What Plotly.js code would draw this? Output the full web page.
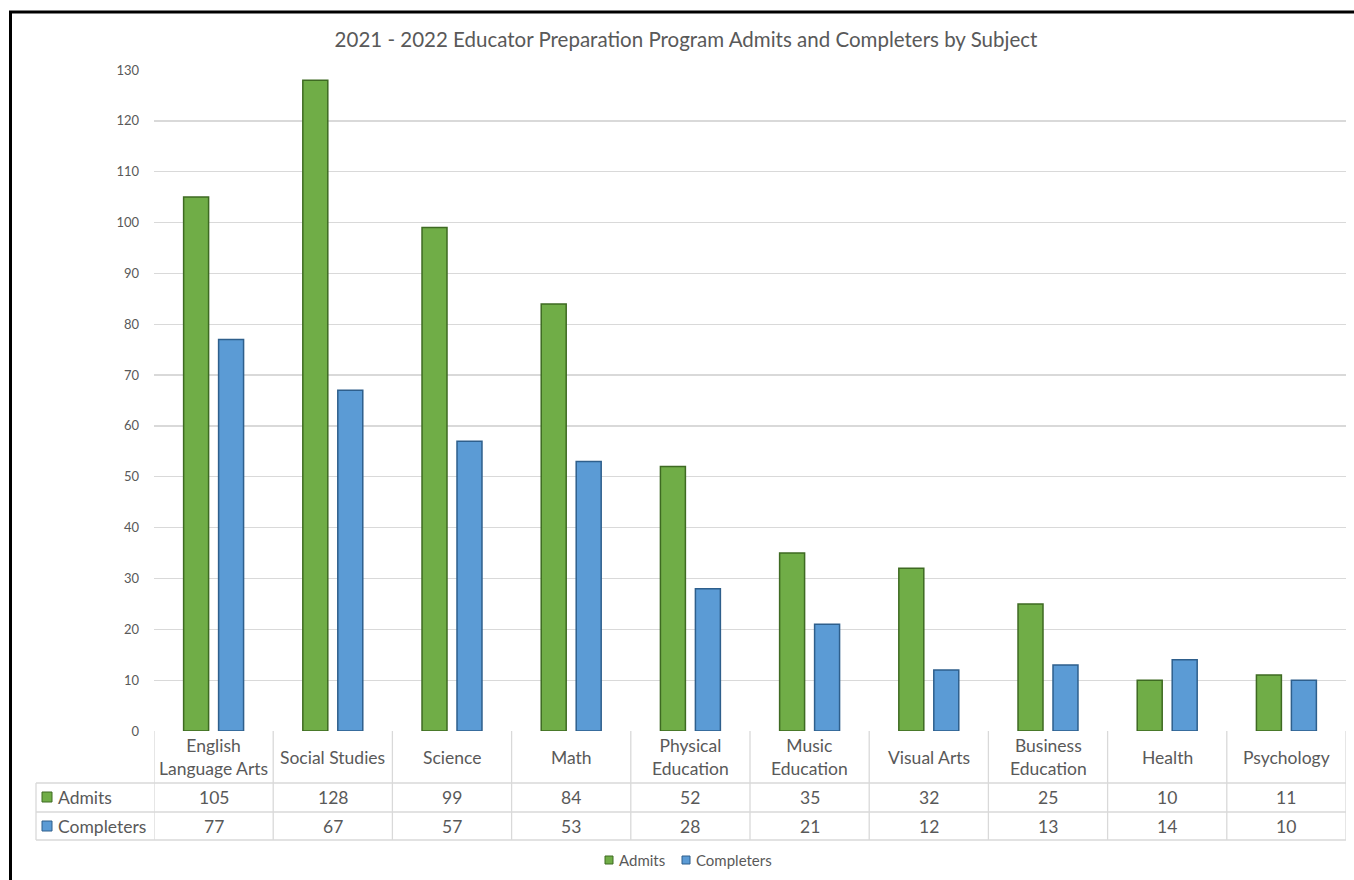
<!DOCTYPE html>
<html>
<head>
<meta charset="utf-8">
<script src="https://cdn.plot.ly/plotly-3.0.1.min.js"></script>
<style>html,body{margin:0;padding:0;background:#fff;}#chart{width:1354px;height:880px;}</style>
</head>
<body>
<div id="chart"></div>
<script>
const categories = ["English Language Arts", "Social Studies", "Science", "Math", "Physical Education", "Music Education", "Visual Arts", "Business Education", "Health", "Psychology"];
const categoryLabels = ["English<br>Language Arts", "Social Studies", "Science", "Math", "Physical<br>Education", "Music<br>Education", "Visual Arts", "Business<br>Education", "Health", "Psychology"];
const admits = [105, 128, 99, 84, 52, 35, 32, 25, 10, 11];
const completers = [77, 67, 57, 53, 28, 21, 12, 13, 14, 10];
const seriesNames = ["Admits", "Completers"];
const yTicks = [0, 10, 20, 30, 40, 50, 60, 70, 80, 90, 100, 110, 120, 130];

const W = 1354, H = 880;
const L = 154, R = 1346, T = 70, B = 731;
const pw = R - L, ph = B - T;
const px = x => (x - L) / pw;
const py = y => (B - y) / ph;

const green = "#70AD47", blue = "#5B9BD5";
const greenEdge = "#3E6A22", blueEdge = "#2E5F8C";
const textColor = "#595959", gridColor = "#D9D9D9";
const font = "Lato, 'Open Sans', sans-serif";

const traces = [
  {type: "bar", name: seriesNames[0], x: categories, y: admits, showlegend: false,
   marker: {color: green, line: {color: greenEdge, width: 1.5}}},
  {type: "bar", name: seriesNames[1], x: categories, y: completers, showlegend: false,
   marker: {color: blue, line: {color: blueEdge, width: 1.5}}}
];

const shapes = [];
const annotations = [];
const line = (x0, y0, x1, y1, xref, color, width) => shapes.push({type: "line", xref: xref, yref: "paper", x0, y0, x1, y1, line: {color, width}});

// table horizontal lines
[783, 812, 840].forEach(y => line(px(36), py(y), 1, py(y), "paper", gridColor, 1.3));
// table vertical lines
line(px(36), py(783), px(36), py(840), "paper", gridColor, 1.3);
for (let i = 0; i <= categories.length; i++) {
  line(i - 0.5, 0, i - 0.5, py(840), "x", gridColor, 1.3);
}

const tfont = {family: font, size: 17.5, color: textColor};
// table text
categories.forEach((c, i) => {
  annotations.push({xref: "x", yref: "paper", x: c, y: py(757), text: categoryLabels[i], showarrow: false, font: tfont, xanchor: "center", yanchor: "middle"});
  annotations.push({xref: "x", yref: "paper", x: c, y: py(797), text: String(admits[i]), showarrow: false, font: tfont, xanchor: "center", yanchor: "middle"});
  annotations.push({xref: "x", yref: "paper", x: c, y: py(826), text: String(completers[i]), showarrow: false, font: tfont, xanchor: "center", yanchor: "middle"});
});
// row headers
[[797, seriesNames[0], green, greenEdge], [826, seriesNames[1], blue, blueEdge]].forEach(([y, name, col, lc]) => {
  shapes.push({type: "rect", xref: "paper", yref: "paper", x0: px(42), x1: px(52), y0: py(y - 5), y1: py(y + 5), fillcolor: col, line: {color: lc, width: 1}});
  annotations.push({xref: "paper", yref: "paper", x: px(56), y: py(y), text: name, showarrow: false, font: tfont, xanchor: "left", yanchor: "middle"});
});

// bottom legend (drawn manually)
const lfont = {family: font, size: 15, color: textColor};
[[605, 617, seriesNames[0], green, greenEdge], [682, 694, seriesNames[1], blue, blueEdge]].forEach(([sx, tx, name, col, lc]) => {
  shapes.push({type: "rect", xref: "paper", yref: "paper", x0: px(sx), x1: px(sx + 8), y0: py(856), y1: py(864), fillcolor: col, line: {color: lc, width: 1}});
  annotations.push({xref: "paper", yref: "paper", x: px(tx), y: py(860), text: name, showarrow: false, font: lfont, xanchor: "left", yanchor: "middle"});
});

// outer black border (top and left)
shapes.push({type: "line", xref: "paper", yref: "paper", x0: px(9), y0: py(12), x1: px(1354), y1: py(12), line: {color: "#000", width: 3}});
shapes.push({type: "line", xref: "paper", yref: "paper", x0: px(10.5), y0: py(11), x1: px(10.5), y1: py(880), line: {color: "#000", width: 3}});

const layout = {
  width: W, height: H,
  margin: {l: L, r: W - R, t: T, b: H - B, pad: 0},
  paper_bgcolor: "#fff", plot_bgcolor: "#fff",
  font: {family: font, color: textColor},
  title: {text: "2021 - 2022 Educator Preparation Program Admits and Completers by Subject", x: 686 / W, xanchor: "center", y: 1 - 40 / H, yanchor: "middle", font: {family: font, size: 20.5, color: textColor}},
  barmode: "group", bargap: 0.413, bargroupgap: 0.286,
  xaxis: {type: "category", range: [-0.5, categories.length - 0.5], automargin: false, showticklabels: false, showgrid: false, zeroline: false, showline: false, ticks: "", fixedrange: true},
  yaxis: {range: [0, 130], automargin: false, tickvals: yTicks, ticktext: yTicks.map(String), showgrid: true, gridcolor: gridColor, gridwidth: 1.3, zeroline: false, showline: false, ticks: "", ticklabelstandoff: 14, tickfont: {family: font, size: 13, color: textColor}, fixedrange: true},
  shapes: shapes,
  annotations: annotations,
  showlegend: false
};

Plotly.newPlot("chart", traces, layout, {displayModeBar: false, staticPlot: true});
</script>
</body>
</html>
